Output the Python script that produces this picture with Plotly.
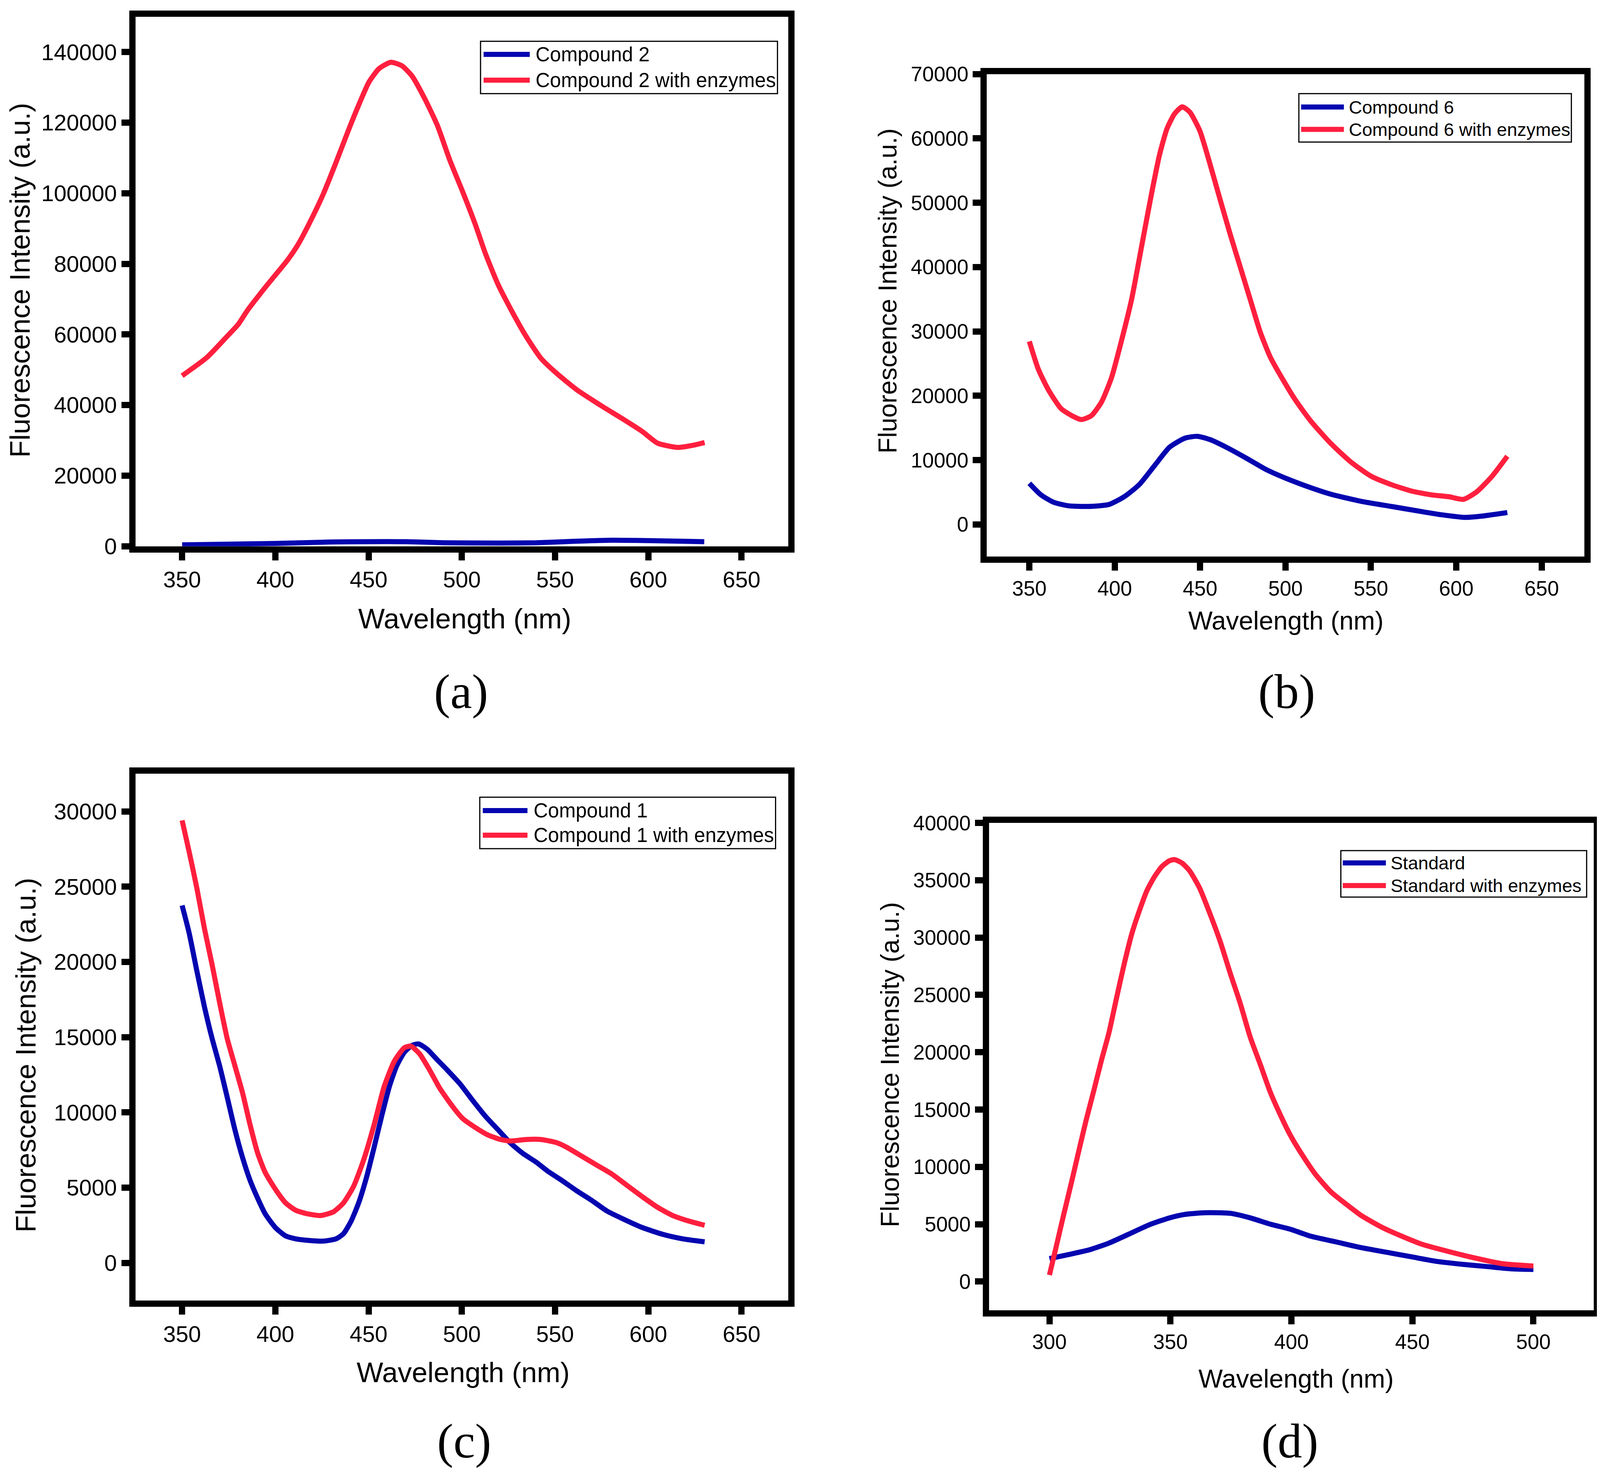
import plotly.graph_objects as go

# ---------------- data ----------------
# (a) Compound 2
a_blue_wl = [350, 400, 430, 450, 470, 490, 520, 540, 560, 580, 600, 630]
a_blue_int = [400, 800, 1200, 1300, 1300, 1000, 900, 1000, 1400, 1700, 1600, 1300]
a_red_wl = [350, 363.3, 374.2, 380, 385, 395.9, 406.7, 412.2, 419, 425.8, 432.5, 439.3, 444.7,
            450.2, 455.6, 461.9, 467.9, 473.3, 480.1, 486.9, 493.6, 500.4, 507.2, 512.6, 519.4,
            526.2, 534.3, 542.5, 550.6, 561.5, 575.1, 585.9, 596.8, 605, 615.8, 624, 630.2]
a_red_int = [48300, 53500, 59500, 62800, 66800, 74200, 81200, 85500, 92300, 99900, 108700, 118000, 125000,
             131500, 135300, 137100, 136100, 133200, 126800, 119200, 109300, 100500, 91200, 83000, 74200,
             67200, 59600, 53200, 49100, 44400, 39700, 36200, 32500, 29200, 28000, 28600, 29400]

# (b) Compound 6
b_blue_wl = [350, 356.8, 364.2, 373, 384.8, 396.6, 405.5, 414.4, 423.2, 432.1, 441, 448.3, 455.7,
             464.6, 476.4, 488.2, 500, 511.8, 526.6, 544.3, 562, 579.7, 591.5, 604.8, 615.1, 629.9]
b_blue_int = [6400, 4600, 3450, 2900, 2800, 3100, 4300, 6200, 9100, 12000, 13400, 13700, 13200,
              12100, 10400, 8600, 7200, 6000, 4700, 3600, 2800, 2000, 1500, 1100, 1300, 1850]
b_red_wl = [350, 355.3, 361.2, 368.6, 376, 380.4, 386.3, 392.2, 398.1, 404, 409.9, 415.8, 421.7, 426.2,
            430.6, 435, 439.5, 443.9, 449.8, 455.7, 461.6, 467.5, 473.4, 479.3, 485.2, 491.1, 498.5,
            505.9, 514.7, 526.5, 538.3, 550.1, 561.9, 573.7, 585.5, 595.9, 604.2, 612.1, 621, 629.9]
b_red_int = [28450, 24100, 20900, 18000, 16750, 16300, 16900, 19000, 22800, 28600, 35000, 43300, 51600, 57400,
             61500, 63800, 64900, 64100, 61200, 56100, 50600, 45200, 40100, 35000, 29900, 26000, 22500,
             19300, 16100, 12600, 9700, 7500, 6200, 5200, 4600, 4300, 3900, 5100, 7500, 10600]

# (c) Compound 1
c_blue_wl = [350, 353.8, 357.9, 362, 366.1, 370.1, 374.2, 378.3, 382.4, 386.4, 390.5, 394.6, 400, 405.4,
             410.9, 417.6, 425.8, 432.5, 436.6, 440.7, 444.7, 448.8, 452.9, 457, 461.1, 465.1, 469.2,
             473.3, 476.8, 481.4, 486.8, 492.3, 499, 505.8, 512.6, 519.4, 526.2, 533, 539.8, 546.6,
             553.4, 561.5, 569.7, 577.8, 586, 596.8, 607.7, 618.5, 630.2]
c_blue_int = [23750, 21900, 19400, 17000, 14900, 13100, 11000, 8850, 7000, 5500, 4300, 3250, 2350, 1800,
              1600, 1500, 1450, 1600, 1950, 2800, 4000, 5650, 7650, 9750, 11700, 13100, 14000,
              14450, 14550, 14200, 13500, 12800, 11900, 10800, 9750, 8850, 7950, 7250, 6700, 6050,
              5500, 4800, 4150, 3450, 2950, 2350, 1900, 1600, 1400]
c_red_wl = [350, 353.8, 357.9, 362, 366.1, 370.1, 374.2, 378.3, 382.4, 386.4, 390.5, 394.6, 400, 405.4,
            410.9, 417.6, 424.4, 431.2, 436.6, 442, 447.5, 452.9, 458.3, 463.8, 469.2, 472.7, 477.3,
            482.8, 488.2, 495, 500.4, 507.2, 514, 520.8, 526.2, 534.3, 542.5, 550.6, 556, 564.2,
            572.3, 580.5, 588.6, 596.8, 604.9, 613.1, 621.2, 630.2]
c_red_int = [29400, 27300, 24900, 22200, 19800, 17300, 14900, 13100, 11300, 9200, 7300, 6000, 4900, 4000,
             3500, 3250, 3150, 3400, 4000, 5100, 6900, 9150, 11700, 13400, 14300, 14400, 13900,
             12800, 11600, 10400, 9600, 9000, 8500, 8200, 8100, 8200, 8200, 8000, 7700, 7100,
             6500, 5900, 5150, 4400, 3700, 3150, 2800, 2500]

# (d) Standard
d_blue_wl = [300, 307.9, 316.3, 324.6, 333, 341.3, 349.6, 355.9, 364.2, 374.7, 383, 391.3, 399.7, 408,
             418.5, 428.9, 439.3, 449.7, 460.2, 470.6, 481, 491.4, 500]
d_blue_int = [2000, 2350, 2750, 3350, 4150, 4950, 5550, 5850, 6000, 5950, 5550, 5000, 4550, 3950,
              3450, 2950, 2550, 2150, 1750, 1500, 1300, 1100, 1050]
d_red_wl = [300, 302.7, 305.8, 309, 312.1, 315.2, 318.4, 321.5, 324.6, 327.7, 330.9, 334, 337.1, 340.3,
            343.4, 346.5, 349.6, 351.7, 354.8, 358, 362.1, 366.3, 370.5, 374.7, 378.8, 383, 387.2,
            391.3, 395.5, 399.7, 404.9, 410.1, 416.4, 422.6, 428.9, 437.2, 445.6, 453.9, 464.3,
            474.8, 487.3, 500]
d_red_int = [560, 2950, 5750, 8550, 11350, 14100, 16700, 19300, 21700, 24700, 27700, 30300, 32300, 34100,
             35300, 36200, 36700, 36800, 36500, 35800, 34300, 32100, 29700, 26900, 24300, 21300, 18900,
             16500, 14500, 12700, 10900, 9300, 7800, 6750, 5750, 4750, 3950, 3250, 2650,
             2100, 1550, 1350]

names = [("Compound 2", "Compound 2 with enzymes"),
         ("Compound 6", "Compound 6 with enzymes"),
         ("Compound 1", "Compound 1 with enzymes"),
         ("Standard", "Standard with enzymes")]
panel_labels = ["(a)", "(b)", "(c)", "(d)"]
x_title = "Wavelength (nm)"
y_title = "Fluorescence Intensity (a.u.)"

x_ranges = [(325, 675), (325, 675), (325, 675), (275, 525)]
y_ranges = [(0, 150000), (-5000, 70000), (-2500, 32500), (-2500, 40000)]
y_dticks = [20000, 10000, 5000, 5000]
x_tick0 = [350, 350, 350, 300]

# ---------------- layout geometry (reference pixels, 4192x3787) ----------------
REF_W, H = 4192, 3787
VIEW_W = 4096            # width actually captured by the browser
SX = VIEW_W / REF_W      # horizontal fit so nothing is cut at the right edge
W = VIEW_W
OFF = 8                  # page body margin, compensated
LW = 16                  # frame line width
# frame line centres: left, right, top, bottom
frames = [(347, 2073, 6, 1400), (2577, 4159, 155, 1427),
          (347, 2073, 1976, 3363), (2583, 4184, 2104, 3388)]
tick_font = [58, 53, 58, 53]
title_font = [72, 66, 72, 66]
legend_font = [51, 47, 51, 47]
ytitle_pos = [(52, 700), (2326, 727), (68, 2716), (2331, 2741)]
xtitle_pos = [(1218, 1580), (3369, 1585), (1214, 3542), (3396, 3558)]
label_pos = [(1208, 1770), (3371, 1770), (1216, 3721), (3379, 3721)]
# legend: box (x0, x1, y0, y1), rows y, line x0, x1, text x
legends = [((1259, 2037, 78, 214), (112, 179), (1267, 1388), 1401),
           ((3403, 4117, 214, 340), (249, 307), (3409, 3521), 3532),
           ((1257, 2032, 2045, 2179), (2080, 2144), (1265, 1382), 1396),
           ((3513, 4157, 2184, 2305), (2216, 2275), (3518, 3631), 3641)]

BLUE = "#0505B0"
RED = "#FF1F3E"
LINE_W = 13
FONT = "Liberation Sans, Arial, sans-serif"

series = [(a_blue_wl, a_blue_int, a_red_wl, a_red_int),
          (b_blue_wl, b_blue_int, b_red_wl, b_red_int),
          (c_blue_wl, c_blue_int, c_red_wl, c_red_int),
          (d_blue_wl, d_blue_int, d_red_wl, d_red_int)]


def px(x):
    return (x * SX - OFF) / W


def py(y):
    return 1 - (y - OFF) / H


fig = go.Figure()
annotations = []
shapes = []

for i in range(4):
    xa = "x" if i == 0 else f"x{i + 1}"
    ya = "y" if i == 0 else f"y{i + 1}"
    bw, bi, rw, ri = series[i]
    fig.add_trace(go.Scatter(x=bw, y=bi, mode="lines", name=names[i][0], xaxis=xa, yaxis=ya,
                             line=dict(color=BLUE, width=LINE_W, shape="spline", smoothing=0.6),
                             showlegend=False))
    fig.add_trace(go.Scatter(x=rw, y=ri, mode="lines", name=names[i][1], xaxis=xa, yaxis=ya,
                             line=dict(color=RED, width=LINE_W, shape="spline", smoothing=0.6),
                             showlegend=False))

    L, R, T, B = frames[i]
    axis_common = dict(showline=True, linecolor="black", linewidth=LW, mirror=True,
                       ticks="outside", ticklen=20, tickwidth=LW, tickcolor="black",
                       showgrid=False, zeroline=False, fixedrange=True, tickformat="d",
                       tickfont=dict(family=FONT, size=tick_font[i], color="black"))
    xkey = "xaxis" if i == 0 else f"xaxis{i + 1}"
    ykey = "yaxis" if i == 0 else f"yaxis{i + 1}"
    fig.update_layout(**{
        xkey: dict(domain=[px(L + LW / 2), px(R - LW / 2)], range=list(x_ranges[i]),
                   anchor=ya, tick0=x_tick0[i], dtick=50, **axis_common),
        ykey: dict(domain=[py(B - LW / 2), py(T + LW / 2)], range=list(y_ranges[i]),
                   anchor=xa, tick0=0, dtick=y_dticks[i], **axis_common),
    })

    # axis titles
    annotations.append(dict(text=y_title, x=px(ytitle_pos[i][0]), y=py(ytitle_pos[i][1]),
                            xref="paper", yref="paper", showarrow=False, textangle=-90,
                            xanchor="center", yanchor="middle",
                            font=dict(family=FONT, size=title_font[i], color="black")))
    annotations.append(dict(text=x_title, x=px(xtitle_pos[i][0]), y=py(xtitle_pos[i][1]),
                            xref="paper", yref="paper", showarrow=False,
                            xanchor="center", yanchor="middle",
                            font=dict(family=FONT, size=title_font[i], color="black")))
    # panel label
    annotations.append(dict(text=panel_labels[i], x=px(label_pos[i][0]), y=py(label_pos[i][1]),
                            xref="paper", yref="paper", showarrow=False,
                            xanchor="center", yanchor="middle",
                            font=dict(family="Liberation Serif, Times New Roman, serif",
                                      size=125, color="black")))
    # legend
    (bx0, bx1, by0, by1), rows, (lx0, lx1), tx = legends[i]
    shapes.append(dict(type="rect", xref="paper", yref="paper",
                       x0=px(bx0), x1=px(bx1), y0=py(by1), y1=py(by0),
                       line=dict(color="black", width=3), fillcolor="white", layer="above"))
    for row_y, col, nm in zip(rows, (BLUE, RED), names[i]):
        shapes.append(dict(type="line", xref="paper", yref="paper",
                           x0=px(lx0), x1=px(lx1), y0=py(row_y), y1=py(row_y),
                           line=dict(color=col, width=LINE_W), layer="above"))
        annotations.append(dict(text=nm, x=px(tx), y=py(row_y), xref="paper", yref="paper",
                                showarrow=False, xanchor="left", yanchor="middle",
                                font=dict(family=FONT, size=legend_font[i], color="black")))

fig.update_layout(width=W, height=H, autosize=False,
                  margin=dict(l=0, r=0, t=0, b=0, pad=0),
                  paper_bgcolor="white", plot_bgcolor="white",
                  showlegend=False, annotations=annotations, shapes=shapes)

fig.write_html("out.html")
